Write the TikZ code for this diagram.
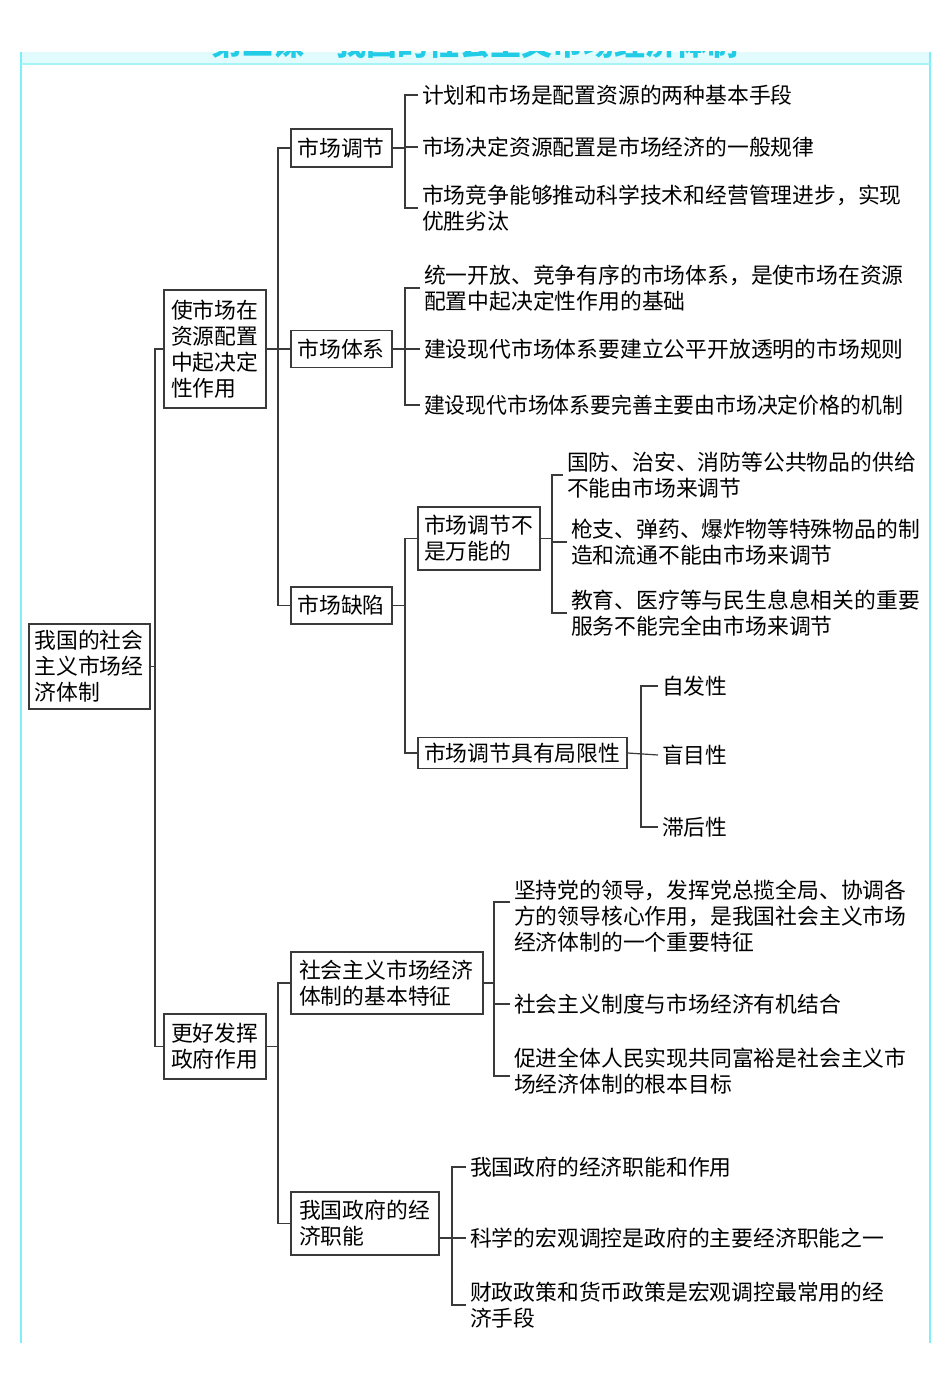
\documentclass[tikz,border=0pt]{standalone}
\usepackage{fontspec}
\usepackage{graphicx}
\setmainfont{Noto Sans CJK SC}
\definecolor{ln}{HTML}{3A3A3A}
\definecolor{fr}{HTML}{7FEFF5}
\definecolor{band}{HTML}{E2FCFD}
\definecolor{ttl}{HTML}{22CCE6}
\begin{document}
\begin{tikzpicture}[x=1pt,y=-1pt,
  every node/.style={font=\fontsize{21.8pt}{26pt}\selectfont, text=black},
  box/.style={draw=ln, line width=1.2pt, inner sep=0pt, align=left},
  leaf/.style={anchor=west, inner sep=0pt, outer xsep=4pt, align=left},
  conn/.style={draw=ln, line width=1.2pt}]
\useasboundingbox (0,0) rectangle (950,1397);
% frame
\fill[band] (21,52) rectangle (930,64);
\begin{scope}
\clip (21,52) rectangle (930,64);
\node[font=\fontsize{31pt}{31pt}\selectfont\bfseries, text=ttl] (title) at (475,44) {第二课\quad 我国的社会主义市场经济体制};
\end{scope}
\draw[fr, line width=1.5pt] (21,52) -- (21,1343) (930,52) -- (930,1343);
\draw[fr!70, line width=1.2pt] (21,64) -- (930,64);

% boxes
\node[box, minimum width=121pt, minimum height=85pt, text width=110pt] (root) at (89.5,666.5) {我国的社会\\主义市场经\\济体制};
\node[box, minimum width=102pt, minimum height=118pt, text width=88pt] (A1) at (215,349) {使市场在\\资源配置\\中起决定\\性作用};
\node[box, minimum width=101pt, minimum height=38pt, text width=88pt] (B1) at (341.5,148) {市场调节};
\node[box, minimum width=101pt, minimum height=37pt, text width=88pt] (B2) at (341.5,349) {市场体系};
\node[box, minimum width=101pt, minimum height=37pt, text width=88pt] (B3) at (341.5,605.5) {市场缺陷};
\node[box, minimum width=122pt, minimum height=63pt, text width=110pt] (C1) at (479,538.5) {市场调节不\\是万能的};
\node[box, minimum width=209pt, minimum height=31pt, text width=197pt] (C2) at (522.5,753) {市场调节具有局限性};
\node[box, minimum width=102pt, minimum height=65pt, text width=88pt] (A2) at (215,1046.5) {更好发挥\\政府作用};
\node[box, minimum width=192pt, minimum height=62pt, text width=176pt] (B4) at (387,983) {社会主义市场经济\\体制的基本特征};
\node[box, minimum width=148pt, minimum height=63pt, text width=132pt] (B5) at (365,1223.5) {我国政府的经\\济职能};

% leaves
\node[leaf] (L11) at (418,95) {计划和市场是配置资源的两种基本手段};
\node[leaf] (L12) at (418,147) {市场决定资源配置是市场经济的一般规律};
\node[leaf] (L13) at (418,208) {市场竞争能够推动科学技术和经营管理进步，实现\\优胜劣汰};
\node[leaf] (L21) at (420,288) {统一开放、竞争有序的市场体系，是使市场在资源\\配置中起决定性作用的基础};
\node[leaf] (L22) at (420,349) {建设现代市场体系要建立公平开放透明的市场规则};
\node[leaf] (L23) at (420,405) {\scalebox{0.955}[1]{建设现代市场体系要完善主要由市场决定价格的机制}};
\node[leaf] (M1) at (563,475) {国防、治安、消防等公共物品的供给\\不能由市场来调节};
\node[leaf] (M2) at (567,542) {枪支、弹药、爆炸物等特殊物品的制\\造和流通不能由市场来调节};
\node[leaf] (M3) at (567,613) {教育、医疗等与民生息息相关的重要\\服务不能完全由市场来调节};
\node[leaf] (N1) at (658,686) {自发性};
\node[leaf] (N2) at (658,755) {盲目性};
\node[leaf] (N3) at (658,827) {滞后性};
\node[leaf] (K1) at (510,916) {坚持党的领导，发挥党总揽全局、协调各\\方的领导核心作用，是我国社会主义市场\\经济体制的一个重要特征};
\node[leaf] (K2) at (510,1004) {社会主义制度与市场经济有机结合};
\node[leaf] (K3) at (510,1071) {促进全体人民实现共同富裕是社会主义市\\场经济体制的根本目标};
\node[leaf] (G1) at (466,1167) {我国政府的经济职能和作用};
\node[leaf] (G2) at (466,1238) {科学的宏观调控是政府的主要经济职能之一};
\node[leaf] (G3) at (466,1305) {财政政策和货币政策是宏观调控最常用的经\\济手段};

% connectors
\coordinate (t0) at (155,0);
\draw[conn] (root.east) -- (root.east -| t0);
\draw[conn] (A1.west) -- (A1.west -| t0) -- (A2.west -| t0) -- (A2.west);

\coordinate (t1) at (278,0);
\draw[conn] (A1.east) -- (B2.west);
\draw[conn] (B1.west) -- (B1.west -| t1) -- (B3.west -| t1) -- (B3.west);

\coordinate (b1) at (405,0);
\draw[conn] (B1.east) -- (B1.east -| b1);
\draw[conn] (L11.west) -- (L11.west -| b1) -- (L13.west -| b1) -- (L13.west);
\draw[conn] (L12.west) -- (L12.west -| b1);

\coordinate (b2) at (405,0);
\draw[conn] (B2.east) -- (L22.west);
\draw[conn] (L21.west) -- (L21.west -| b2) -- (L23.west -| b2) -- (L23.west);

\coordinate (b3) at (405,0);
\draw[conn] (B3.east) -- (B3.east -| b3);
\draw[conn] (C1.west) -- (C1.west -| b3) -- (C2.west -| b3) -- (C2.west);

\coordinate (c1) at (552,0);
\draw[conn] (C1.east) -- (C1.east -| c1);
\draw[conn] (M1.west) -- (M1.west -| c1) -- (M3.west -| c1) -- (M3.west);
\draw[conn] (M2.west) -- (M2.west -| c1);

\coordinate (c2) at (641,0);
\draw[conn] (C2.east) -- (N2.west);
\draw[conn] (N1.west) -- (N1.west -| c2) -- (N3.west -| c2) -- (N3.west);

\coordinate (t2) at (278,0);
\draw[conn] (A2.east) -- (A2.east -| t2);
\draw[conn] (B4.west) -- (B4.west -| t2) -- (B5.west -| t2) -- (B5.west);

\coordinate (b4) at (494,0);
\draw[conn] (B4.east) -- (B4.east -| b4);
\draw[conn] ([yshift=14pt]K1.west) -- ([yshift=14pt]K1.west -| b4) -- ([yshift=-5pt]K3.west -| b4) -- ([yshift=-5pt]K3.west);
\draw[conn] (K2.west) -- (K2.west -| b4);

\coordinate (b5) at (452,0);
\draw[conn] (B5.east |- G2.west) -- (G2.west);
\draw[conn] (G1.west) -- (G1.west -| b5) -- (G3.west -| b5) -- (G3.west);
\end{tikzpicture}
\end{document}
